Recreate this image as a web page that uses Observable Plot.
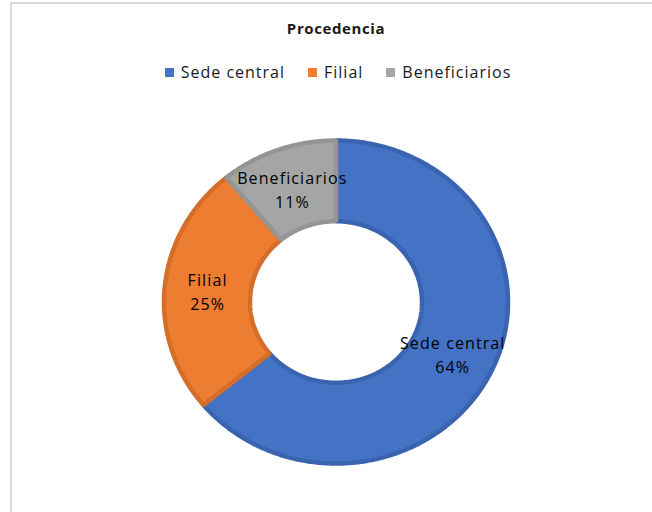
<!DOCTYPE html>
<html>
<head>
<meta charset="utf-8">
<script src="https://cdn.jsdelivr.net/npm/d3@7"></script>
<script src="https://cdn.jsdelivr.net/npm/@observablehq/plot@0.6"></script>
<style>
  html, body { margin: 0; padding: 0; background: #fff; }
  #frame {
    position: absolute; left: 10px; top: 2px; width: 642px; height: 510px;
    border-top: 2px solid #d9d9d9; border-left: 2px solid #d9d9d9; box-sizing: border-box;
  }
  #chart2 svg text { letter-spacing: 1.1px; }
</style>
</head>
<body>
<div id="frame"></div>
<div id="wrap" style="position:absolute;left:0;top:0;width:652px;height:512px;font-family:'Open Sans',Lato,sans-serif;">
  <div id="ttl" style="position:absolute;left:10px;width:652px;top:18px;text-align:center;font-weight:bold;font-size:15px;letter-spacing:0.6px;color:#1a1a1a;">Procedencia</div>
  <div id="legend2" style="position:absolute;top:61px;left:12px;width:652px;display:flex;justify-content:center;gap:23px;font-size:16px;color:#1a1a1a;letter-spacing:1px;"></div>
  <div id="chart2" style="position:absolute;left:0;top:100px;"></div>
</div>
<script>
const categories = ["Sede central", "Filial", "Beneficiarios"];
const values = [64, 25, 11];
const percentLabels = ["64%", "25%", "11%"];

const fillColors = {"Sede central": "#4472C4", "Filial": "#ED7D31", "Beneficiarios": "#A5A5A5"};
const edgeColors = {"Sede central": "#3A64B0", "Filial": "#D56E2A", "Beneficiarios": "#959595"};

// legend
const leg = document.getElementById("legend2");
categories.forEach(c => {
  const it = document.createElement("span");
  it.style.display = "inline-flex"; it.style.alignItems = "center";
  const sw = document.createElement("span");
  sw.style.cssText = `display:inline-block;width:9px;height:9px;margin-right:7px;background:${fillColors[c]}`;
  it.appendChild(sw);
  it.appendChild(document.createTextNode(c));
  leg.appendChild(it);
});

// pie geometry from data
const pie = d3.pie().sort(null).startAngle(0).endAngle(2 * Math.PI);
const arcs = pie(values);
const inner = 0.5, outer = 1;
const pts = [];
arcs.forEach((a, i) => {
  const key = categories[i];
  const n = Math.max(8, Math.ceil((a.endAngle - a.startAngle) / 0.01));
  const ring = [];
  for (let k = 0; k <= n; k++) {
    const t = a.startAngle + (a.endAngle - a.startAngle) * k / n;
    ring.push({key, x: outer * Math.sin(t), y: outer * Math.cos(t)});
  }
  for (let k = n; k >= 0; k--) {
    const t = a.startAngle + (a.endAngle - a.startAngle) * k / n;
    ring.push({key, x: inner * Math.sin(t), y: inner * Math.cos(t)});
  }
  ring.push({...ring[0]});
  pts.push(...ring);
});
const labels = arcs.map((a, i) => {
  const m = (a.startAngle + a.endAngle) / 2, r = (inner + outer) / 2;
  return {x: r * Math.sin(m), y: r * Math.cos(m), text: categories[i] + "\n" + percentLabels[i]};
});

const W = 652, H = 412;
const cx = 335.5, cy = 201.5, rx = 172, ry = 161.5;
const chart = Plot.plot({
  width: W, height: H,
  marginLeft: cx - rx, marginRight: W - (cx + rx),
  marginTop: cy - ry, marginBottom: H - (cy + ry),
  x: {domain: [-1, 1], axis: null},
  y: {domain: [-1, 1], axis: null},
  color: {type: "identity"},
  style: {fontFamily: "'Open Sans', Lato, sans-serif", background: "transparent"},
  marks: [
    Plot.line(pts, {x: "x", y: "y", z: "key", fill: d => fillColors[d.key], stroke: d => edgeColors[d.key], strokeWidth: 4.5, strokeLinejoin: "miter", curve: "linear"}),
    Plot.text(labels, {x: "x", y: "y", text: "text", fontSize: 16, lineHeight: 1.5, fill: "#000"})
  ]
});
document.getElementById("chart2").appendChild(chart);
</script>
</body>
</html>
